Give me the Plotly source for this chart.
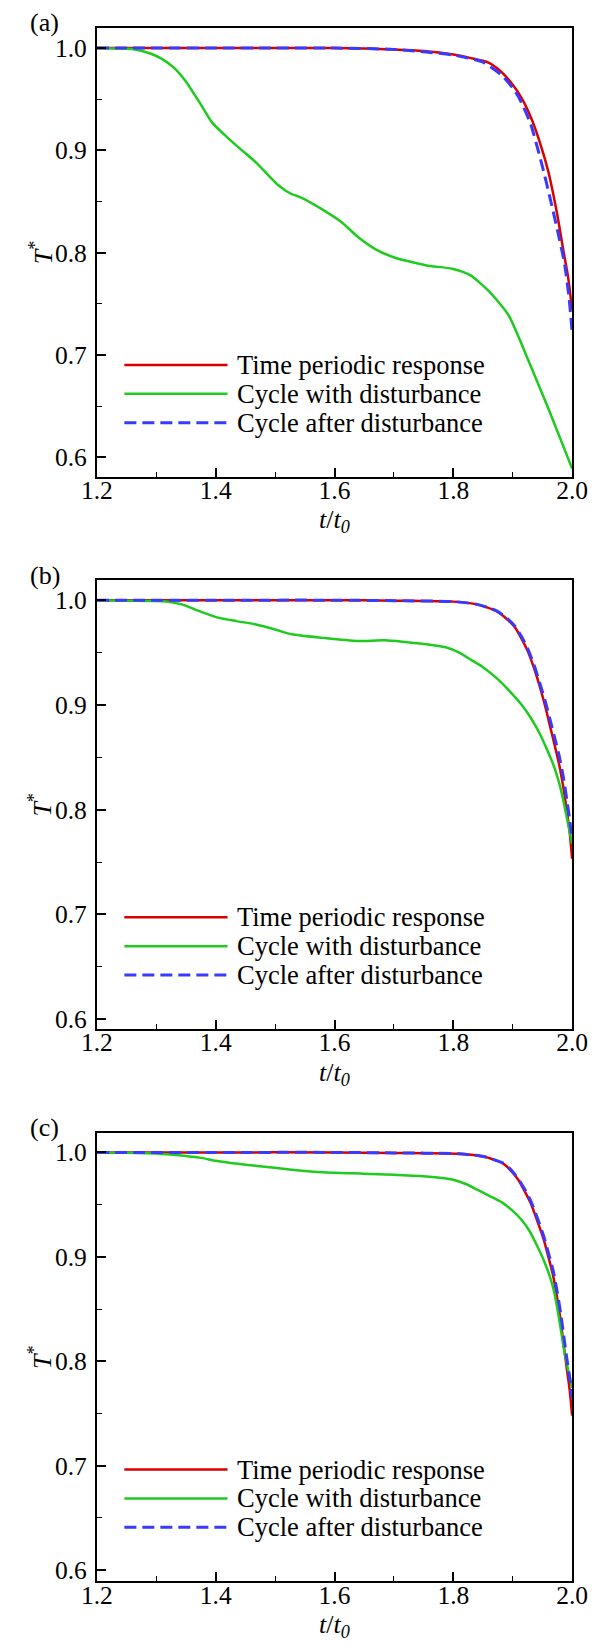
import plotly.graph_objects as go

# ---------------- data ----------------
# Panel (a)
a_red_x = [1.2, 1.3, 1.4, 1.5, 1.6, 1.65, 1.7, 1.75, 1.8, 1.83, 1.86, 1.88, 1.9, 1.915, 1.93, 1.945, 1.96, 1.975, 1.985, 1.993, 2.0]
a_red_y = [1.0, 1.0, 1.0, 1.0, 0.9998, 0.9993, 0.9985, 0.997, 0.9935, 0.990, 0.9854, 0.977, 0.964, 0.951, 0.933, 0.909, 0.879, 0.837, 0.803, 0.777, 0.744]
a_grn_x = [1.2, 1.23, 1.26, 1.29, 1.31, 1.33, 1.35, 1.373, 1.394, 1.415, 1.436, 1.468, 1.505, 1.525, 1.543, 1.58, 1.612, 1.64, 1.67, 1.702, 1.755, 1.798, 1.829, 1.861, 1.893, 1.925, 1.962, 2.0]
a_grn_y = [1.0, 0.9995, 0.999, 0.9945, 0.989, 0.9805, 0.967, 0.9465, 0.927, 0.915, 0.904, 0.888, 0.866, 0.858, 0.854, 0.842, 0.8297, 0.815, 0.803, 0.795, 0.7875, 0.7842, 0.7777, 0.7616, 0.7388, 0.6966, 0.6448, 0.589]
a_blu_x = [1.2, 1.3, 1.4, 1.5, 1.6, 1.7, 1.8, 1.85, 1.88, 1.9, 1.91, 1.93, 1.95, 1.965, 1.976, 1.987, 1.995, 2.0]
a_blu_y = [1.0, 1.0, 1.0, 1.0, 0.9998, 0.9985, 0.993, 0.986, 0.974, 0.961, 0.952, 0.926, 0.884, 0.848, 0.820, 0.790, 0.755, 0.722]

# Panel (b)
b_red_x = [1.2, 1.4, 1.6, 1.7, 1.8, 1.84, 1.872, 1.89, 1.904, 1.915, 1.925, 1.936, 1.946, 1.955, 1.962, 1.97, 1.978, 1.985, 1.991, 1.996, 2.0]
b_red_y = [1.0, 1.0, 1.0, 0.9995, 0.9986, 0.996, 0.9897, 0.982, 0.9738, 0.963, 0.9516, 0.935, 0.9167, 0.898, 0.8817, 0.863, 0.8436, 0.822, 0.7992, 0.778, 0.753]
b_grn_x = [1.2, 1.25, 1.312, 1.343, 1.37, 1.404, 1.435, 1.466, 1.5, 1.528, 1.58, 1.638, 1.685, 1.72, 1.755, 1.787, 1.81, 1.83, 1.85, 1.872, 1.895, 1.914, 1.93, 1.946, 1.958, 1.968, 1.977, 1.984, 1.992, 2.0]
b_grn_y = [1.0, 0.9995, 0.999, 0.996, 0.990, 0.9833, 0.980, 0.977, 0.972, 0.9674, 0.964, 0.961, 0.9617, 0.960, 0.958, 0.955, 0.950, 0.943, 0.936, 0.926, 0.913, 0.9008, 0.888, 0.872, 0.857, 0.8436, 0.828, 0.812, 0.79, 0.7674]
b_blu_x = [1.2, 1.4, 1.6, 1.7, 1.8, 1.84, 1.872, 1.89, 1.904, 1.915, 1.925, 1.936, 1.946, 1.955, 1.962, 1.97, 1.978, 1.985, 1.991, 1.996, 2.0]
b_blu_y = [1.0, 1.0, 1.0, 0.9995, 0.9986, 0.996, 0.990, 0.983, 0.975, 0.965, 0.954, 0.938, 0.920, 0.903, 0.888, 0.870, 0.852, 0.832, 0.810, 0.790, 0.772]

# Panel (c)
c_red_x = [1.2, 1.4, 1.6, 1.7, 1.808, 1.851, 1.883, 1.896, 1.909, 1.92, 1.93, 1.941, 1.952, 1.96, 1.968, 1.975, 1.981, 1.986, 1.991, 1.996, 2.0]
c_red_y = [1.0, 1.0, 1.0, 0.9995, 0.9987, 0.996, 0.9897, 0.983, 0.974, 0.963, 0.9517, 0.935, 0.917, 0.9, 0.882, 0.86, 0.8376, 0.815, 0.7933, 0.772, 0.748]
c_grn_x = [1.2, 1.25, 1.3, 1.324, 1.35, 1.373, 1.4, 1.423, 1.47, 1.528, 1.58, 1.649, 1.7, 1.755, 1.798, 1.82, 1.84, 1.862, 1.883, 1.9, 1.914, 1.928, 1.941, 1.952, 1.962, 1.97, 1.978, 1.987, 1.994, 2.0]
c_grn_y = [1.0, 0.9997, 0.999, 0.998, 0.9965, 0.995, 0.992, 0.990, 0.987, 0.9835, 0.981, 0.9796, 0.9785, 0.977, 0.974, 0.970, 0.9644, 0.958, 0.9517, 0.944, 0.936, 0.925, 0.9106, 0.897, 0.882, 0.866, 0.841, 0.809, 0.79, 0.7743]
c_blu_x = [1.2, 1.4, 1.6, 1.7, 1.808, 1.851, 1.883, 1.896, 1.909, 1.92, 1.93, 1.941, 1.952, 1.96, 1.968, 1.975, 1.981, 1.986, 1.991, 1.996, 2.0]
c_blu_y = [1.0, 1.0, 1.0, 0.9995, 0.9987, 0.996, 0.990, 0.984, 0.975, 0.965, 0.954, 0.938, 0.920, 0.904, 0.887, 0.866, 0.845, 0.824, 0.803, 0.784, 0.765]

series_names = ["Time periodic response", "Cycle with disturbance", "Cycle after disturbance"]
panel_labels = ["(a)", "(b)", "(c)"]
y_ranges = [[0.5812, 1.0195], [0.5908, 1.019], [0.5894, 1.019]]
x_ticks = [1.2, 1.4, 1.6, 1.8, 2.0]
y_ticks = [0.6, 0.7, 0.8, 0.9, 1.0]

panels = [
    [(a_red_x, a_red_y), (a_grn_x, a_grn_y), (a_blu_x, a_blu_y)],
    [(b_red_x, b_red_y), (b_grn_x, b_grn_y), (b_blu_x, b_blu_y)],
    [(c_red_x, c_red_y), (c_grn_x, c_grn_y), (c_blu_x, c_blu_y)],
]

# ---------------- style ----------------
PAGE_W, PAGE_H = 608, 1651
OFF = 8  # default body margin of the html page
W, H = PAGE_W - OFF, PAGE_H - OFF
FONT = "Liberation Serif"
RED, GREEN, BLUE = "#d90000", "#1ecb1e", "#3a3aff"
colors = [RED, GREEN, BLUE]
widths = [2.5, 2.5, 3]
dashes = ["solid", "solid", "12px,6px"]

LEFT, RIGHT = 85, 587          # page coordinates
TOPS = [28, 582, 1136]
PH = 450


def px(x):
    return (x - OFF) / W


def py(y):
    return 1 - (y - OFF) / H


fig = go.Figure()
annotations = []
shapes = []

for i, panel in enumerate(panels):
    n = "" if i == 0 else str(i + 1)
    for j, (xs, ys) in enumerate(panel):
        fig.add_trace(go.Scatter(
            x=xs, y=ys, mode="lines", name=series_names[j], showlegend=False,
            line=dict(color=colors[j], width=widths[j], dash=dashes[j], shape="spline", smoothing=0.6),
            xaxis="x" + n, yaxis="y" + n,
        ))
    top = TOPS[i]
    bot = top + PH
    fig.update_layout(**{
        "xaxis" + n: dict(
            domain=[px(LEFT), px(RIGHT)], anchor="y" + n, range=[1.2, 2.0],
            tickvals=x_ticks, ticktext=[f"{v:.1f}" for v in x_ticks],
            ticks="inside", ticklen=9, tickwidth=1.5, tickcolor="black",
            minor=dict(ticks="inside", ticklen=5, dtick=0.1, tick0=1.2, tickcolor="black", tickwidth=1),
            showline=True, linewidth=2, linecolor="black", mirror=True,
            showgrid=False, zeroline=False, ticklabelstandoff=-10,
            tickfont=dict(family=FONT, size=25.5, color="black"),
        ),
        "yaxis" + n: dict(
            domain=[py(bot), py(top)], anchor="x" + n, range=y_ranges[i],
            tickvals=y_ticks, ticktext=[f"{v:.1f}" for v in y_ticks],
            ticks="inside", ticklen=9, tickwidth=1.5, tickcolor="black",
            minor=dict(ticks="inside", ticklen=5, dtick=0.05, tick0=0.6, tickcolor="black", tickwidth=1),
            showline=True, linewidth=2, linecolor="black", mirror=True,
            showgrid=False, zeroline=False, ticklabelstandoff=3,
            tickfont=dict(family=FONT, size=25.5, color="black"),
        ),
    })
    # panel label
    annotations.append(dict(text=panel_labels[i], x=px(12), y=py(top - 5), xref="paper", yref="paper",
                            xanchor="left", yanchor="middle", showarrow=False,
                            font=dict(family=FONT, size=26, color="black")))
    # x title
    annotations.append(dict(text="<i>t</i>/<i>t</i><sub><i>0</i></sub>", x=px((LEFT + RIGHT) / 2), y=py(bot + 45),
                            xref="paper", yref="paper", xanchor="center", yanchor="middle", showarrow=False,
                            font=dict(family=FONT, size=26, color="black")))
    # y title
    annotations.append(dict(text="<i>T</i><sup>*</sup>", x=px(26), y=py(top + PH / 2), xref="paper", yref="paper",
                            xanchor="center", yanchor="middle", showarrow=False, textangle=-90,
                            font=dict(family=FONT, size=26, color="black")))
    # legend
    for j in range(3):
        ry = top + 338 + j * 29
        shapes.append(dict(type="line", xref="paper", yref="paper", x0=px(114), x1=px(223), y0=py(ry), y1=py(ry),
                           line=dict(color=colors[j], width=widths[j], dash=dashes[j])))
        annotations.append(dict(text=series_names[j], x=px(231), y=py(ry), xref="paper", yref="paper",
                                xanchor="left", yanchor="middle", showarrow=False,
                                font=dict(family=FONT, size=26.5, color="black")))

fig.update_layout(
    width=W, height=H, margin=dict(l=0, r=0, t=0, b=0),
    paper_bgcolor="white", plot_bgcolor="white",
    annotations=annotations, shapes=shapes, showlegend=False,
)

fig.write_html("out.html")
